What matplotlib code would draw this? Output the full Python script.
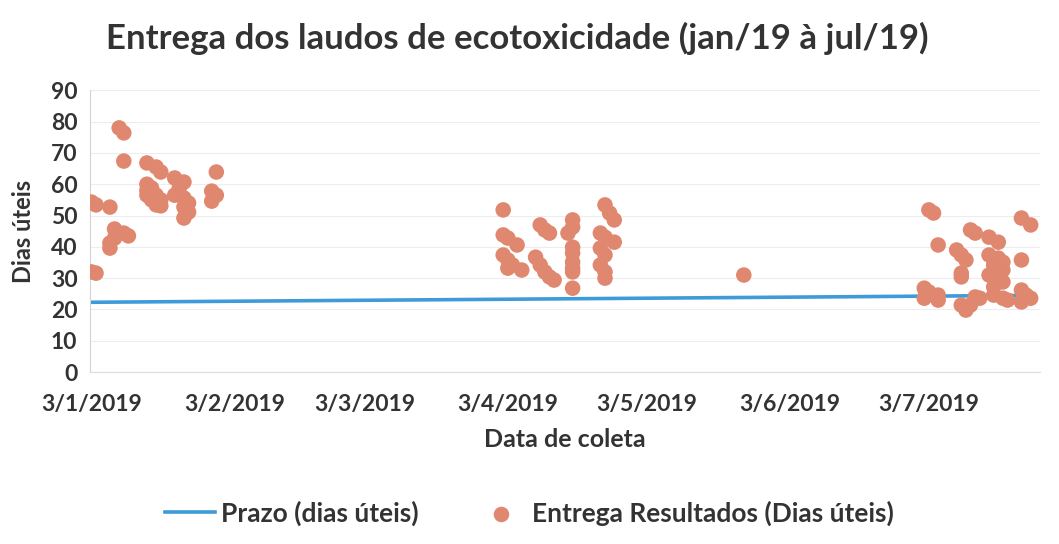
import matplotlib
matplotlib.use("Agg")
import matplotlib.pyplot as plt
import numpy as np
import pandas as pd

# ---------------- data ----------------
title = "Entrega dos laudos de ecotoxicidade (jan/19 à jul/19)"

coleta_datas = [
    # janeiro
    "2019-01-03", "2019-01-03", "2019-01-04", "2019-01-04",
    "2019-01-07", "2019-01-07", "2019-01-07", "2019-01-08", "2019-01-08",
    "2019-01-09", "2019-01-10", "2019-01-10", "2019-01-10", "2019-01-11",
    "2019-01-15", "2019-01-15", "2019-01-15", "2019-01-15",
    "2019-01-16", "2019-01-16",
    "2019-01-17", "2019-01-17", "2019-01-17",
    "2019-01-18", "2019-01-18", "2019-01-18",
    "2019-01-21", "2019-01-21", "2019-01-22",
    "2019-01-23", "2019-01-23", "2019-01-23", "2019-01-23",
    "2019-01-24", "2019-01-24",
    "2019-01-29", "2019-01-29", "2019-01-30", "2019-01-30",
    # abril
    "2019-04-02", "2019-04-02", "2019-04-02",
    "2019-04-03", "2019-04-03", "2019-04-03",
    "2019-04-04", "2019-04-05", "2019-04-06",
    "2019-04-09", "2019-04-10", "2019-04-10",
    "2019-04-11", "2019-04-11", "2019-04-12", "2019-04-12", "2019-04-13",
    "2019-04-16",
    "2019-04-17", "2019-04-17", "2019-04-17", "2019-04-17", "2019-04-17",
    "2019-04-17", "2019-04-17", "2019-04-17",
    "2019-04-23", "2019-04-23", "2019-04-23",
    "2019-04-24", "2019-04-24", "2019-04-24", "2019-04-24", "2019-04-24",
    "2019-04-25", "2019-04-26", "2019-04-26",
    # maio
    "2019-05-24",
    # julho
    "2019-07-02", "2019-07-02", "2019-07-03", "2019-07-03", "2019-07-04",
    "2019-07-05", "2019-07-05", "2019-07-05",
    "2019-07-09", "2019-07-10", "2019-07-10", "2019-07-10", "2019-07-10",
    "2019-07-11", "2019-07-11", "2019-07-12", "2019-07-12",
    "2019-07-13", "2019-07-13", "2019-07-14",
    "2019-07-16", "2019-07-16", "2019-07-16",
    "2019-07-17", "2019-07-17", "2019-07-17",
    "2019-07-18", "2019-07-18", "2019-07-18", "2019-07-18",
    "2019-07-19", "2019-07-19", "2019-07-19", "2019-07-19",
    "2019-07-20",
    "2019-07-23", "2019-07-23", "2019-07-23", "2019-07-23",
    "2019-07-24", "2019-07-25", "2019-07-25",
]

entrega_dias = [
    # janeiro
    54.3, 32.0, 53.4, 31.6,
    52.7, 39.6, 41.2, 42.8, 45.7,
    78.0, 76.4, 67.4, 44.4, 43.5,
    66.8, 60.0, 58.1, 56.5,
    55.0, 58.8,
    65.5, 56.5, 53.4,
    63.9, 53.1, 55.0,
    62.0, 56.5, 58.8,
    60.7, 52.7, 49.2, 55.6,
    51.1, 54.0,
    57.8, 54.6, 63.9, 56.5,
    # abril
    51.8, 37.4, 43.8,
    42.8, 35.8, 33.2,
    34.2, 40.6, 32.6,
    36.7, 34.2, 47.0,
    32.0, 45.4, 30.4, 44.4, 29.4,
    44.4,
    48.6, 46.3, 39.9, 35.1, 33.2,
    38.0, 32.0, 26.8,
    44.4, 39.6, 34.2,
    37.4, 53.4, 43.1, 32.0, 30.0,
    50.8, 41.5, 48.6,
    # maio
    31.0,
    # julho
    26.8, 23.6, 51.8, 25.6, 50.8,
    40.6, 24.6, 23.0,
    39.0, 31.6, 21.4, 37.4, 30.4,
    19.8, 35.8, 45.4, 21.4,
    44.4, 24.0, 23.6,
    43.1, 37.4, 31.0,
    34.2, 24.6, 27.2,
    36.4, 33.2, 41.5, 30.0,
    35.1, 32.6, 28.8, 23.6,
    23.0,
    49.2, 35.8, 26.2, 22.4,
    24.6, 47.0, 23.6,
]

prazo_datas = ["2019-01-03", "2019-07-25"]
prazo_dias = [22.3, 24.5]

tick_datas = ["2019-01-03", "2019-02-03", "2019-03-03", "2019-04-03",
              "2019-05-03", "2019-06-03", "2019-07-03"]
tick_labels = ["3/1/2019", "3/2/2019", "3/3/2019", "3/4/2019",
               "3/5/2019", "3/6/2019", "3/7/2019"]
y_ticks = [0, 10, 20, 30, 40, 50, 60, 70, 80, 90]

# ---------------- style ----------------
FONT = ["Lato", "DejaVu Sans"]
plt.rcParams["font.family"] = FONT
TXT = "#333333"
DOT = "#E0876F"
LINE = "#3D9BDA"

fig = plt.figure(figsize=(10.59, 5.44), dpi=100)
ax = fig.add_axes([0.085, 0.316, 0.897, 0.518])

xd = pd.to_datetime(coleta_datas)
ax.plot(pd.to_datetime(prazo_datas), prazo_dias, color=LINE, lw=2.6,
        label="Prazo (dias úteis)", zorder=2)
ax.scatter(xd, entrega_dias, s=125, color=DOT, edgecolors="none",
           label="Entrega Resultados (Dias úteis)", zorder=3)

ax.set_ylim(0, 90)
ax.set_yticks(y_ticks)
ax.set_xlim(pd.Timestamp("2019-01-03") - pd.Timedelta(days=0.3),
            pd.Timestamp("2019-07-27"))
ax.set_xticks(pd.to_datetime(tick_datas))
ax.set_xticklabels(tick_labels)

ax.grid(axis="y", color="#ededed", lw=0.8)
ax.set_axisbelow(True)
for s in ["top", "right"]:
    ax.spines[s].set_visible(False)
ax.spines["left"].set_color("#d4d4d4")
ax.spines["bottom"].set_color("#dcdcdc")
ax.tick_params(length=0, labelsize=16.5, labelcolor=TXT)
ax.tick_params(axis="x", pad=16)
ax.tick_params(axis="y", pad=9)
for lab in ax.get_xticklabels() + ax.get_yticklabels():
    lab.set_fontweight("bold")

ax.set_ylabel("Dias úteis", fontsize=17, fontweight="bold", color=TXT, labelpad=11)
ax.set_xlabel("Data de coleta", fontsize=18, fontweight="bold", color=TXT, labelpad=9)

fig.text(0.488, 0.93, title, ha="center", va="center", fontsize=25,
         fontweight="bold", color=TXT)

leg = fig.legend(loc="center", bbox_to_anchor=(0.5, 0.057), ncol=2,
                 frameon=False, handlelength=1.9, handletextpad=0.2,
                 columnspacing=2.2,
                 prop={"weight": "bold", "size": 19, "family": FONT})
for t in leg.get_texts():
    t.set_color(TXT)

fig.savefig("out.png", dpi=100)
